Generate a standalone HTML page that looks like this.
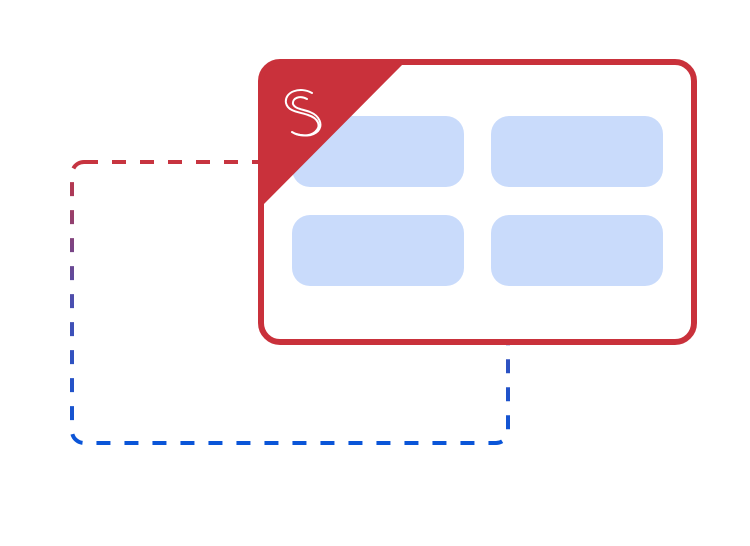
<!DOCTYPE html>
<html><head><style>html,body{margin:0;padding:0;background:#fff;width:750px;height:546px;overflow:hidden}</style></head>
<body>
<svg width="750" height="546" viewBox="0 0 750 546" xmlns="http://www.w3.org/2000/svg">
<defs>
<linearGradient id="g" x1="0" y1="162" x2="0" y2="443" gradientUnits="userSpaceOnUse">
<stop offset="0" stop-color="#c8343f"/><stop offset="0.5" stop-color="#4a4fb0"/><stop offset="1" stop-color="#0a55d8"/>
</linearGradient>
<clipPath id="c"><rect x="261" y="62" width="433" height="280" rx="19"/></clipPath>
</defs>
<rect x="72" y="162" width="436" height="281" rx="12" fill="none" stroke="url(#g)" stroke-width="4" stroke-dasharray="14 14"/>
<rect x="261" y="62" width="433" height="280" rx="19" fill="#fff"/>
<rect x="292" y="116" width="172" height="71" rx="18" fill="#c9dbfb"/>
<rect x="491" y="116" width="172" height="71" rx="18" fill="#c9dbfb"/>
<rect x="292" y="215" width="172" height="71" rx="18" fill="#c9dbfb"/>
<rect x="491" y="215" width="172" height="71" rx="18" fill="#c9dbfb"/>
<polygon points="258,59 408,59 258,210" fill="#c9313b" clip-path="url(#c)"/>
<rect x="261" y="62" width="433" height="280" rx="19" fill="none" stroke="#c9313b" stroke-width="6"/>
<g fill="none" stroke="#fff" stroke-width="2" stroke-linecap="round">
<path d="M312,93 C300,86 284,92 286,103 C288,112 300,112 308,115 C318,118 322,126 315,132 C309,137 298,136 292,132"/>
<path d="M307,99 C300,95 292,98 293,104 C295,109 302,109 310,112 C320,116 323,125 318,131 C312,137 302,136 296,134"/>
</g>
</svg>
</body></html>
